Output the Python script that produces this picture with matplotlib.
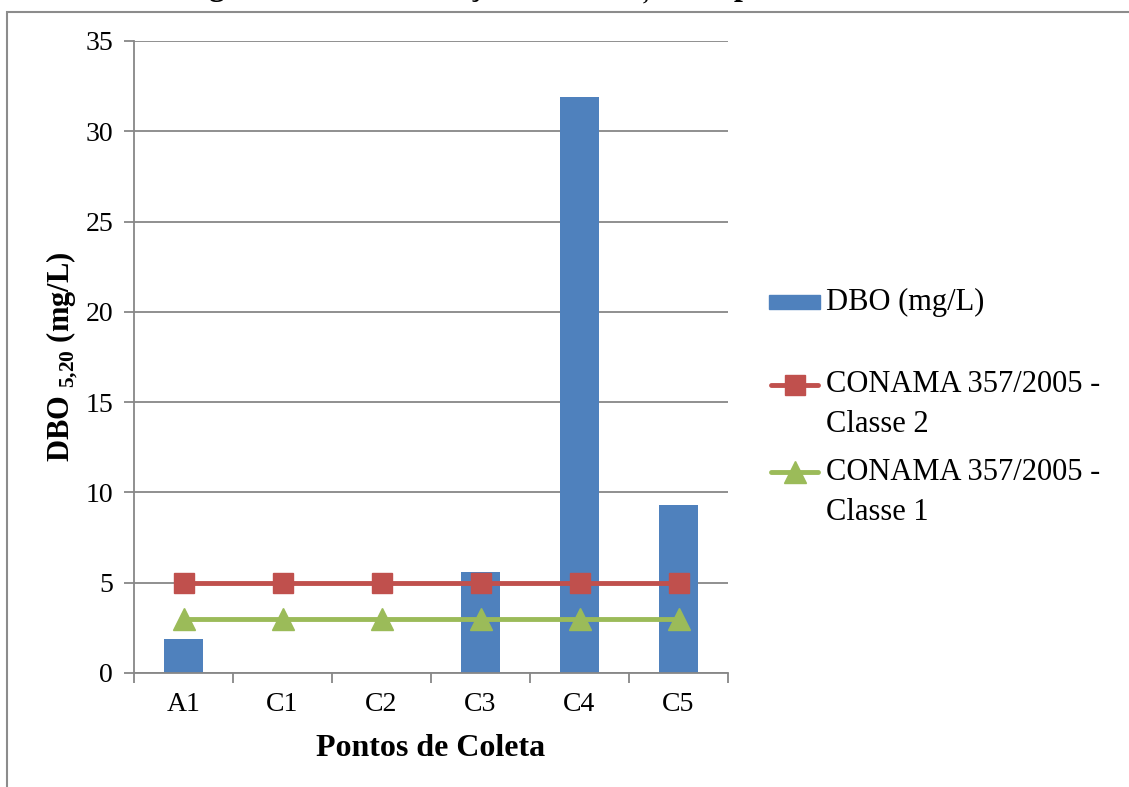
import matplotlib
matplotlib.use("Agg")
import matplotlib.pyplot as plt
from matplotlib.lines import Line2D
from matplotlib.patches import Rectangle
import numpy as np

plt.rcParams["font.family"] = ["Liberation Serif", "DejaVu Serif"]
plt.rcParams["mathtext.fontset"] = "custom"
plt.rcParams["mathtext.rm"] = "Liberation Serif"
plt.rcParams["mathtext.bf"] = "Liberation Serif:bold"

# Data
pontos = ["A1", "C1", "C2", "C3", "C4", "C5"]
dbo = [1.9, 0, 0, 5.6, 31.9, 9.3]
classe2 = [5, 5, 5, 5, 5, 5]
classe1 = [3, 3, 3, 3, 3, 3]
yticks = [0, 5, 10, 15, 20, 25, 30, 35]

BLUE = "#4F81BD"
RED = "#C0504D"
GREEN = "#9BBB59"
GRID = "#878787"

W, H = 1129, 787
fig = plt.figure(figsize=(W / 100, H / 100), dpi=100)

def fx(px):
    return px / W

def fy(py):
    return 1 - py / H

# axes placed in pixel terms
left, right, top, bottom = 134, 728, 41, 673
ax = fig.add_axes([fx(left), fy(bottom), fx(right - left), (bottom - top) / H])

x = np.arange(len(pontos))
ax.bar(x, dbo, width=0.4, color=BLUE, zorder=2)
ax.plot(x, classe2, color=RED, lw=3.5, marker="s", ms=15, mfc=RED, mec=RED, zorder=3)
ax.plot(x, classe1, color=GREEN, lw=3.5, marker="^", ms=16, mfc=GREEN, mec=GREEN, zorder=3)

ax.set_xlim(-0.5, len(pontos) - 0.5)
ax.set_ylim(0, 35)
ax.set_yticks(yticks)
ax.yaxis.grid(True, color=GRID, lw=1.3, zorder=0)
ax.set_axisbelow(True)
ax.set_xticks(x)
ax.set_xticklabels(pontos, fontsize=20)
ax.set_xticks(np.arange(-0.5, len(pontos)), minor=True)
ax.tick_params(axis="x", which="major", length=0, pad=14)
ax.tick_params(axis="x", which="minor", length=7, width=1.3, color=GRID)
ax.tick_params(axis="y", length=7, width=1.3, color=GRID, labelsize=20, pad=8)
for s in ["top", "right"]:
    ax.spines[s].set_visible(False)
for s in ["left", "bottom"]:
    ax.spines[s].set_color(GRID)
    ax.spines[s].set_linewidth(1.3)

ax.set_xlabel("Pontos de Coleta", fontsize=23, fontweight="bold", labelpad=12)
ax.set_ylabel(r"DBO $_{\mathbf{5{,}20}}$ (mg/L)", fontsize=22, fontweight="bold", labelpad=4)

# outer chart frame
fig.add_artist(Rectangle((fx(7), fy(800)), fx(1200), (800 - 12) / H,
                         fill=False, ec="#8c8c8c", lw=1.5, transform=fig.transFigure))

# caption above the frame
fig.text(fx(180), fy(-5), r"Figura 7 - Concentração de DBO$_{\mathbf{5{,}20}}$ nos pontos de coleta",
         fontsize=23, fontweight="bold", va="baseline", ha="left")

# legend drawn in figure pixels
lx0, lx1, tx = 769, 820, 826
fig.add_artist(Rectangle((fx(lx0), fy(309)), fx(lx1 - lx0), 14 / H, color=BLUE,
                         transform=fig.transFigure))
fig.text(fx(tx), fy(302), "DBO (mg/L)", fontsize=22, va="center")
for yc, col, mk, ms, l1, l2 in [(385, RED, "s", 15, "CONAMA 357/2005 -", "Classe 2"),
                                (472, GREEN, "^", 16, "CONAMA 357/2005 -", "Classe 1")]:
    fig.add_artist(Line2D([fx(lx0 + 2), fx(lx1 - 2)], [fy(yc), fy(yc)], color=col, lw=3.5,
                          solid_capstyle="round", transform=fig.transFigure))
    fig.add_artist(Line2D([fx((lx0 + lx1) / 2)], [fy(yc)], marker=mk, ms=ms, color=col,
                          transform=fig.transFigure))
    fig.text(fx(tx), fy(yc), l1, fontsize=22, va="center")
    fig.text(fx(tx), fy(yc + 40), l2, fontsize=22, va="center")

fig.savefig("out.png", dpi=100)
